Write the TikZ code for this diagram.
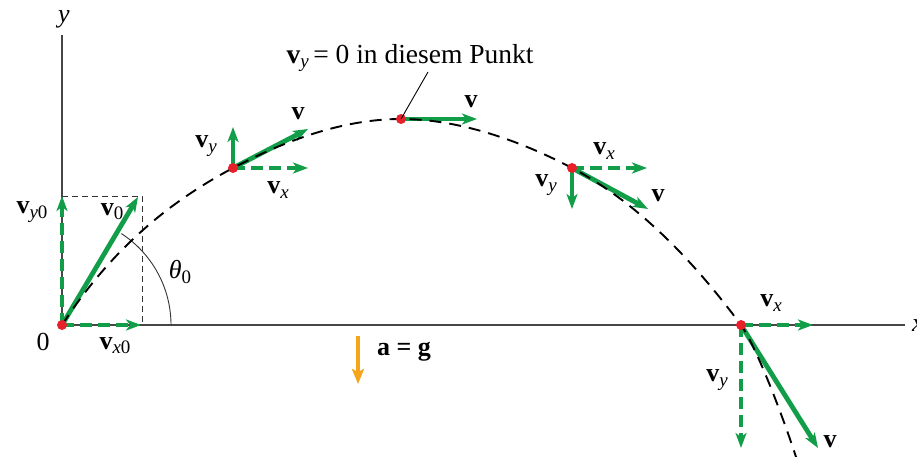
\documentclass[tikz,border=0pt]{standalone}
\usepackage{fontspec}
\setmainfont{Liberation Serif}
\usetikzlibrary{arrows.meta}
\definecolor{vgreen}{RGB}{18,158,72}
\definecolor{dotred}{RGB}{232,32,42}
\definecolor{agold}{RGB}{245,165,25}
\definecolor{axisgray}{RGB}{70,70,70}
\newcommand{\bv}{\textbf{v}}
\newcommand{\vsb}[1]{\raisebox{-0.35ex}{\fontsize{19}{20}\selectfont #1}}
\begin{document}
\begin{tikzpicture}[x=1pt,y=-1pt,
  vsolid/.style={vgreen, line width=4.8pt, -{Stealth[length=15pt,width=11pt,inset=4pt]}},
  vdash/.style={vsolid, dash pattern=on 12pt off 6pt},
  dot/.style={circle, fill=dotred, inner sep=0pt, minimum size=10pt},
  lbl/.style={font=\fontsize{26}{28}\selectfont, inner sep=1pt},
  traj/.style={black, line width=1.9pt, dash pattern=on 12pt off 8pt},
  axis/.style={axisgray, line width=1.3pt},
  thin dash/.style={black!80, line width=1pt, dash pattern=on 6pt off 4pt}]
\useasboundingbox (0,0) rectangle (917,457);
% axes
\coordinate (O) at (62,325);
\coordinate (ytop) at (62,35);
\coordinate (xend) at (905,325);
\draw[axis] (O) -- (ytop);
\draw[axis] (O) -- (xend);
\node[lbl] (ylab) at (64,19) {\textit{y}};
\node[lbl] (xlab) at (918,326) {\textit{x}};
% points on the path
\coordinate (P1) at (233,168);
\coordinate (P2) at (401,119);
\coordinate (P3) at (572,168);
\coordinate (P4) at (741,325);
\coordinate (P5) at (796,457);
% component box and angle
\coordinate (Vy0) at (62,196);
\coordinate (Vx0) at (141,325);
\coordinate (Bc) at (142,196);
\coordinate (Bb) at (142,325);
\draw[thin dash] (Vy0) -- (Bc) -- (Bb);
\draw[black!80, line width=0.9pt] (171,325) arc[start angle=0, end angle=-57, radius=109];
% vectors at O
\coordinate (V0) at (138,197);
\draw[vdash] (O) -- (Vy0);
\draw[vdash] (O) -- (Vx0);
\draw[vsolid] (O) -- (V0);
% vectors at P1
\coordinate (P1y) at (233,127);
\coordinate (P1x) at (308,168);
\coordinate (P1v) at (308,129);
\draw[vsolid] (P1) -- (P1y);
\draw[vdash] (P1) -- (P1x);
\draw[vsolid] (P1) -- (P1v);
% vector at P2
\coordinate (P2v) at (477,119);
\draw[vsolid] (P2) -- (P2v);
% vectors at P3
\coordinate (P3x) at (647,168);
\coordinate (P3y) at (572,209);
\coordinate (P3v) at (648,209);
\draw[vdash] (P3) -- (P3x);
\draw[vsolid] (P3) -- (P3y);
\draw[vsolid] (P3) -- (P3v);
% vectors at P4
\coordinate (P4x) at (813,325);
\coordinate (P4y) at (741,448);
\coordinate (P4v) at (818,448);
\draw[vdash] (P4) -- (P4x);
\draw[vdash] (P4) -- (P4y);
\draw[vsolid] (P4) -- (P4v);
% trajectory
\draw[traj] (O) .. controls (109,253) and (165,204) .. (P1)
  .. controls (284,141) and (343,119) .. (P2)
  .. controls (459,119) and (521,141) .. (P3)
  .. controls (640,204) and (695,263) .. (P4)
  .. controls (758,350) and (784,420) .. (P5);
% dots
\node[dot] (d0) at (O) {};
\node[dot] (d1) at (P1) {};
\node[dot] (d2) at (P2) {};
\node[dot] (d3) at (P3) {};
\node[dot] (d4) at (P4) {};
% labels
\node[lbl] (lvy0) at (32,212) {\bv\vsb{\textit{y}0}};
\node[lbl] (lv0) at (112,212) {\bv\vsb{0}};
\node[lbl] (l0) at (43,342) {0};
\node[lbl] (lvx0) at (115,346) {\bv\vsb{\textit{x}0}};
\node[lbl] (lth) at (180,272) {\textit{θ}\vsb{0}};
\node[lbl] (l1y) at (206,146) {\bv\vsb{\textit{y}}};
\node[lbl] (l1v) at (298,114) {\bv};
\node[lbl] (l1x) at (278,190) {\bv\vsb{\textit{x}}};
\node[lbl] (l2v) at (471,102) {\bv};
\node[lbl] (l3x) at (604,151) {\bv\vsb{\textit{x}}};
\node[lbl] (l3y) at (546,185) {\bv\vsb{\textit{y}}};
\node[lbl] (l3v) at (658,196) {\bv};
\node[lbl] (l4x) at (771,303) {\bv\vsb{\textit{x}}};
\node[lbl] (l4y) at (717,380) {\bv\vsb{\textit{y}}};
\node[lbl] (l4v) at (830,442) {\bv};
% annotation
\node[lbl, font=\fontsize{27.5}{30}\selectfont] (note) at (410,58) {\bv\vsb{\textit{y}}\,= 0 in diesem Punkt};
\coordinate (noteend) at (428,72);
\draw[black, line width=0.9pt] (noteend) -- (P2);
% acceleration
\coordinate (a1) at (358,336);
\coordinate (a2) at (358,384);
\draw[agold, line width=4pt, -{Stealth[length=15pt,width=12pt,inset=3pt]}] (a1) -- (a2);
\node[lbl] (lag) at (404,352) {\textbf{a = g}};
\end{tikzpicture}
\end{document}
